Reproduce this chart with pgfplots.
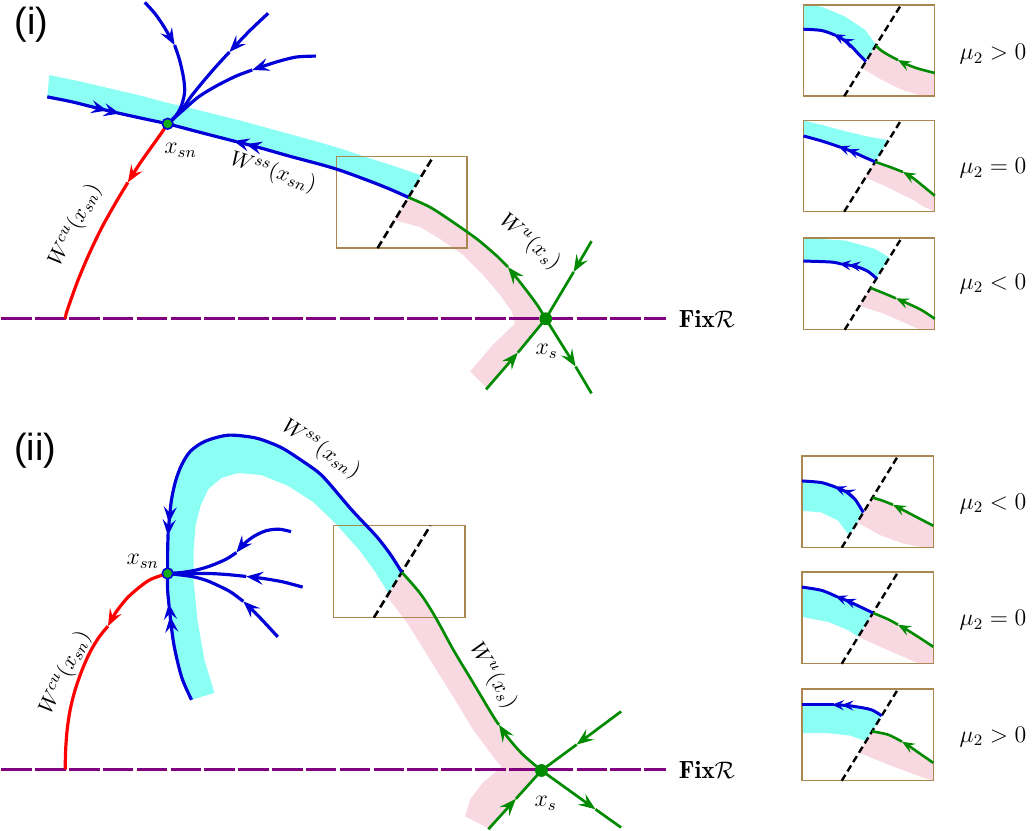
\documentclass[border=0pt]{standalone}
\usepackage{fontspec}
\usepackage{pgfplots}
\pgfplotsset{compat=1.18}
\usetikzlibrary{arrows.meta}
\newfontfamily\labfont{Liberation Sans}
\definecolor{mblue}{RGB}{0,0,215}
\definecolor{mcyan}{RGB}{140,255,245}
\definecolor{mpink}{RGB}{248,217,225}
\definecolor{mgreen}{RGB}{0,138,0}
\definecolor{mdot}{RGB}{20,175,20}
\definecolor{mred}{RGB}{255,0,0}
\definecolor{mpurple}{RGB}{128,0,128}
\definecolor{mbrown}{RGB}{170,135,80}
\tikzset{
 a1/.style={-{Stealth[length=8.5pt,width=6.5pt,inset=3.2pt]}},
 a2/.style={-{Stealth[length=8pt,width=6.5pt,inset=3pt,sep=-1.5pt]Stealth[length=8pt,width=6.5pt,inset=3pt,sep=-1.5pt]}},
 b1/.style={-{Stealth[length=6.5pt,width=5.2pt,inset=2.5pt]}},
 b2/.style={-{Stealth[length=6pt,width=5pt,inset=2.3pt,sep=-1.2pt]Stealth[length=6pt,width=5pt,inset=2.3pt,sep=-1.2pt]}},
 bl/.style={color=mblue, line width=1.6pt, smooth, line join=round},
 gr/.style={color=mgreen, line width=1.35pt, smooth, line join=round},
 rd/.style={color=mred, line width=1.6pt, smooth, line join=round},
 ibl/.style={color=mblue, line width=1.5pt, smooth, line join=round},
 igr/.style={color=mgreen, line width=1.3pt, smooth, line join=round},
 cy/.style={fill=mcyan, draw=none},
 pk/.style={fill=mpink, draw=none},
 bx/.style={color=mbrown, line width=0.7pt},
 dsh/.style={black, line width=1.3pt, dash pattern=on 4pt off 2pt},
 idsh/.style={black, line width=1.2pt, dash pattern=on 3.5pt off 2pt},
 fx/.style={color=mpurple, line width=1.5pt, dash pattern=on 15.3pt off 1.7pt},
}
\begin{document}
\begin{tikzpicture}
\begin{axis}[
  width=516.5pt, height=421.5pt, scale only axis,
  xmin=0, xmax=1033, ymin=0, ymax=843, y dir=reverse,
  hide axis, clip=false,
]
% ================= PANEL (i) =================
\addplot[cy] coordinates {(57,82) (90,89) (120,96) (150,103) (176,110) (210,118) (250,128) (290,139) (330,150) (350,156) (380,166) (405,174) (431,183) (418,205) (400,197) (380,189) (350,178) (330,172) (300,164) (270,155.5) (245,149) (210,140) (176,131) (150,125.5) (123,119.5) (100,114) (80,109) (55,104)};
\addplot[pk] coordinates {(418,205) (440,215) (463,230) (487,247) (507,264) (519,276) (530,290) (540,303) (548,314) (556,327) (537,350) (517,373) (497,397) (480,380) (503,353) (525,332) (522,320) (510,303) (493,283) (473,263) (450,247) (430,235) (404,228)};
\addplot[bx] coordinates {(346,164) (477,164) (477,256) (346,256)} -- cycle;
\addplot[fx] coordinates {(9,327) (677,327)};
\addplot[dsh] coordinates {(387,256) (443,164)};
% W^ss
\addplot[bl,a2] coordinates {(55,104) (80,109) (100,114) (125,120)};
\addplot[bl] coordinates {(125,120) (150,125.5) (176,131)};
\addplot[bl,a2] coordinates {(418,205) (400,197) (380,189) (350,178) (330,172) (300,164) (270,155.5) (245,149)};
\addplot[bl] coordinates {(245,149) (210,140) (176,131)};
% branches
\addplot[bl,a1] coordinates {(153,9) (163,20) (172,33) (183,52)};
\addplot[bl] coordinates {(183,52) (188,67) (192,85) (193,100) (189,115) (182,126) (176,131)};
\addplot[bl,a1] coordinates {(277,20) (258,38) (238,59)};
\addplot[bl] coordinates {(238,59) (226,72) (213,87) (200,103) (190,117) (176,131)};
\addplot[bl,a1] coordinates {(325,63) (305,64) (285,69) (261,77)};
\addplot[bl] coordinates {(261,77) (245,83) (225,93) (207,104) (192,117) (176,131)};
% W^cu
\addplot[rd,a1] coordinates {(176,131) (170,140) (160,154) (148,171) (136,190)};
\addplot[rd] coordinates {(136,190) (124,210) (110,235) (97,262) (86,288) (78,310) (74,322) (73,327)};
% W^u
\addplot[gr,a1] coordinates {(556,327) (548,314) (540,303) (530,290) (518,275)};
\addplot[gr] coordinates {(518,275) (507,264) (487,247) (463,230) (440,215) (418,205)};
% saddle
\addplot[gr,a1] coordinates {(602,249) (584,280)};
\addplot[gr] coordinates {(584,280) (556,327)};
\addplot[gr,a1] coordinates {(556,327) (586,375)};
\addplot[gr] coordinates {(586,375) (602,402)};
\addplot[gr,a1] coordinates {(496,398) (528,361)};
\addplot[gr] coordinates {(528,361) (556,327)};
\addplot[only marks, mark=*, mark size=3pt, mark options={fill=mgreen, draw=mgreen}] coordinates {(556,327)};
\addplot[only marks, mark=*, mark size=2.7pt, mark options={fill=mdot, draw=mblue, line width=0.8pt}] coordinates {(176,131)};
% insets (i)
% box 1
\addplot[cy] coordinates {(815,11.7) (833,13.3) (857,23.3) (877,36.7) (888,51.7) (877.8,68.3) (870,60.5) (863.3,53.3) (855,46.5) (847,42) (833.3,37.3) (815,36)};
\addplot[pk] coordinates {(888,52.7) (893,57.3) (900,61.7) (910,67) (918,71) (930,75.5) (947,80) (947,103.3) (933,102.7) (913.3,96.7) (893.3,86.7) (873.6,75)};
\addplot[bx] coordinates {(815,11.7) (947,11.7) (947,103.3) (815,103.3)} -- cycle;
\addplot[idsh] coordinates {(856,103.3) (913,11.7)};
\addplot[ibl,b2] coordinates {(877.8,68.3) (870,60.5) (863.3,53.3) (855,46.5) (847,42)};
\addplot[ibl] coordinates {(847,42) (833.3,37.3) (815,36)};
\addplot[igr,b1] coordinates {(947,80) (930,75.5) (918,71) (910,67)};
\addplot[igr] coordinates {(910,67) (900,61.7) (893,57.3) (888,52.7)};
% box 2
\addplot[cy] coordinates {(815,127.7) (833,132) (850,136.7) (876.7,143.3) (900.5,147.5) (887.1,169.3) (876,164.5) (864,159) (852,154.5) (833.3,148.3) (815,143.3)};
\addplot[pk] coordinates {(887.1,169.3) (902,174.5) (915,179.5) (925,185.5) (935,193.5) (947,203.3) (947,219.3) (935,214) (926.7,208.3) (900,195) (877.3,185)};
\addplot[bx] coordinates {(815,127.7) (947,127.7) (947,219.3) (815,219.3)} -- cycle;
\addplot[idsh] coordinates {(856,219.3) (913,127.7)};
\addplot[ibl,b2] coordinates {(887.1,169.3) (876,164.5) (864,159) (852,154.5)};
\addplot[ibl] coordinates {(852,154.5) (833.3,148.3) (815,143.3)};
\addplot[igr,b1] coordinates {(947,203.3) (935,193.5) (925,185.5) (915,179.5)};
\addplot[igr] coordinates {(915,179.5) (902,174.5) (887.1,169.3)};
% box 3
\addplot[cy] coordinates {(815,246) (856.7,248.3) (886.7,256.7) (901.5,265.5) (888.4,286.5) (880,279.5) (868,274.5) (853,272) (843,270) (815,269)};
\addplot[pk] coordinates {(882.5,296) (895,301) (908,306.5) (916,310) (925,314) (935,319) (947,327) (947,338) (932,338) (921,333) (896,322) (871.4,314)};
\addplot[bx] coordinates {(815,246) (947,246) (947,338) (815,338)} -- cycle;
\addplot[idsh] coordinates {(856.5,338) (913.5,246)};
\addplot[ibl,b2] coordinates {(888.4,286.5) (880,279.5) (868,274.5) (853,272)};
\addplot[ibl] coordinates {(853,272) (843,270) (815,269)};
\addplot[igr,b1] coordinates {(947,327) (935,319) (925,314) (916,310) (908,306.5)};
\addplot[igr] coordinates {(908,306.5) (895,301) (882.5,296)};
% labels (i)
\node[font=\labfont\fontsize{19}{22}\selectfont] at (39,31) {(i)};
\node[font=\fontsize{12}{14}\selectfont] at (189,158) {$x_{sn}$};
\node[font=\fontsize{12}{14}\selectfont] at (557,360) {$x_{s}$};
\node[font=\fontsize{11}{13}\selectfont, rotate=63] at (83,233) {$W^{cu}(x_{sn})$};
\node[font=\fontsize{11}{13}\selectfont, rotate=-17] at (282,180) {$W^{ss}(x_{sn})$};
\node[font=\fontsize{11}{13}\selectfont, rotate=-40] at (540,250) {$W^{u}(x_{s})$};
\node[font=\fontsize{12.5}{14}\selectfont] at (718,327) {$\mathbf{Fix}\mathcal{R}$};
\node[font=\fontsize{12}{14}\selectfont, anchor=west] at (965,61) {$\mu_2>0$};
\node[font=\fontsize{12}{14}\selectfont, anchor=west] at (965,176) {$\mu_2=0$};
\node[font=\fontsize{12}{14}\selectfont, anchor=west] at (965,292) {$\mu_2<0$};
% ================= PANEL (ii) =================
\addplot[cy] coordinates {(411.3,581.7) (400,564) (387,547) (374,533) (360,518) (337,491) (327,481) (310,469) (293,458) (280,452) (263,446.5) (237,444) (214,450) (199,460) (190,474) (184,490) (180,508) (178,525) (176.5,540) (176,560) (176,583) (176,600) (177.5,618) (182,653) (190,687) (200,710) (223,703) (213,670) (206,630) (202,590) (202,560) (204,535) (209,515) (217,498) (230,487) (247,482) (270,484) (297,495) (322,511) (345,533) (369,560) (385,582) (398,603)};
\addplot[pk] coordinates {(411.3,581.7) (430,603.3) (445,626.7) (463.3,660) (483.3,693.3) (503.3,726.7) (509,735) (518,748) (533,765) (551.7,781) (530,805) (515,822) (500,840) (475,827) (480,810) (493,793) (511.7,777.5) (503,767) (483,740) (463,707) (440,670) (417,633) (396.5,606)};
\addplot[bx] coordinates {(342.7,535) (475,535) (475,627.3) (342.7,627.3)} -- cycle;
\addplot[fx] coordinates {(9,780) (677,780)};
\addplot[dsh] coordinates {(383.3,627.3) (440,535)};
% W^ss
\addplot[bl,a2] coordinates {(411.3,581.7) (400,564) (387,547) (374,533) (360,518) (337,491) (327,481) (310,469) (293,458) (280,452) (263,446.5) (237,444) (214,450) (199,460) (190,474) (184,490) (180,508) (178,525) (176.5,542)};
\addplot[bl] coordinates {(176.5,542) (176,560) (176,583)};
\addplot[bl,a2] coordinates {(200,710) (190,687) (182,653) (177.5,616)};
\addplot[bl] coordinates {(177.5,616) (176,600) (176,583)};
% branches
\addplot[bl,a1] coordinates {(300,541) (288,538.5) (275,540) (263,545.5) (253,553) (245,562)};
\addplot[bl] coordinates {(245,562) (235,568.5) (220,575) (205,579.5) (190,582) (176,583)};
\addplot[bl,a1] coordinates {(311.7,596.7) (292,591.5) (272,588) (255,586)};
\addplot[bl] coordinates {(255,586) (235,584) (216.7,583) (196,583) (176,583)};
\addplot[bl,a1] coordinates {(286.7,646.7) (275,634) (264,622.5) (252,611)};
\addplot[bl] coordinates {(252,611) (240,602) (230,596.7) (215,590) (200,586) (176,583)};
% W^cu
\addplot[rd,a1] coordinates {(176,583) (157,590) (137,606) (124,622) (116,636)};
\addplot[rd] coordinates {(116,636) (107,647) (98,662) (90,680) (83,700) (78,720) (75,740) (73.5,760) (73,780)};
% W^u
\addplot[gr,a1] coordinates {(551.7,781) (533,765) (518,748) (509,735)};
\addplot[gr] coordinates {(509,735) (503.3,726.7) (483.3,693.3) (463.3,660) (445,626.7) (430,603.3) (411.3,581.7)};
% saddle
\addplot[gr,a1] coordinates {(631.7,721.7) (587,755)};
\addplot[gr] coordinates {(587,755) (551.7,781)};
\addplot[gr,a1] coordinates {(551.7,781) (606,820)};
\addplot[gr] coordinates {(606,820) (631.7,838.3)};
\addplot[gr,a1] coordinates {(498.3,840) (526,809.5)};
\addplot[gr] coordinates {(526,809.5) (551.7,781)};
\addplot[only marks, mark=*, mark size=3pt, mark options={fill=mgreen, draw=mgreen}] coordinates {(551.7,781)};
\addplot[only marks, mark=*, mark size=2.7pt, mark options={fill=mdot, draw=mblue, line width=0.8pt}] coordinates {(176,583)};
% insets (ii)
% box 1
\addplot[cy] coordinates {(813.5,490) (833.3,491.7) (848,496.5) (858,501) (866.7,508.3) (875.2,521.7) (860.9,545) (850,530) (833.3,521.7) (813.5,520)};
\addplot[pk] coordinates {(884.4,506.7) (895,510) (905,514) (916.7,520) (930,527) (945.5,535) (945.5,557) (936.7,557) (916.7,553.3) (893.3,545) (869,531.7)};
\addplot[bx] coordinates {(813.5,465) (945.5,465) (945.5,557) (813.5,557)} -- cycle;
\addplot[idsh] coordinates {(853.5,557) (910,465)};
\addplot[ibl,b2] coordinates {(875.2,521.7) (866.7,508.3) (858,501) (848,496.5)};
\addplot[ibl] coordinates {(848,496.5) (833.3,491.7) (813.5,490)};
\addplot[igr,b1] coordinates {(945.5,535) (930,527) (916.7,520) (905,514)};
\addplot[igr] coordinates {(905,514) (895,510) (884.4,506.7)};
% box 2
\addplot[cy] coordinates {(813.5,596.7) (833.3,600) (849,606.5) (858,610) (870,615.5) (885,622.7) (870,646.7) (860,640) (840,631.7) (813.5,626.7)};
\addplot[pk] coordinates {(885,622.7) (900,629) (910,634.5) (918,639) (930,646.5) (945.5,656.7) (945.5,673.7) (932,673.7) (926.7,671.7) (900,660) (870,646.7)};
\addplot[bx] coordinates {(813.5,581.7) (945.5,581.7) (945.5,673.7) (813.5,673.7)} -- cycle;
\addplot[idsh] coordinates {(853.5,673.7) (910,581.7)};
\addplot[ibl,b2] coordinates {(885,622.7) (870,615.5) (858,610) (849,606.5)};
\addplot[ibl] coordinates {(849,606.5) (833.3,600) (813.5,596.7)};
\addplot[igr,b1] coordinates {(945.5,656.7) (930,646.5) (918,639) (910,634.5)};
\addplot[igr] coordinates {(910,634.5) (900,629) (885,622.7)};
% box 3
\addplot[cy] coordinates {(813.5,715) (846,715) (856,715.5) (866.7,716.7) (883.3,720) (893.6,726) (878,751.5) (862,746) (840,743.5) (813.5,743.5)};
\addplot[pk] coordinates {(884,741.7) (900,745) (914,752) (922,757) (932,764) (945.5,773.3) (945.5,791.3) (935,788) (926.7,785) (900,775) (871,763.3)};
\addplot[bx] coordinates {(813.5,699.3) (945.5,699.3) (945.5,791.3) (813.5,791.3)} -- cycle;
\addplot[idsh] coordinates {(853.5,791.3) (910,699.3)};
\addplot[ibl,b2] coordinates {(893.6,726) (883.3,720) (866.7,716.7) (856,715.5) (846,715)};
\addplot[ibl] coordinates {(846,715) (813.5,715)};
\addplot[igr,b1] coordinates {(945.5,773.3) (932,764) (922,757) (914,752)};
\addplot[igr] coordinates {(914,752) (900,745) (884,741.7)};
% labels (ii)
\node[font=\labfont\fontsize{19}{22}\selectfont] at (43,460) {(ii)};
\node[font=\fontsize{12}{14}\selectfont] at (151,571) {$x_{sn}$};
\node[font=\fontsize{12}{14}\selectfont] at (556,814) {$x_{s}$};
\node[font=\fontsize{11}{13}\selectfont, rotate=64] at (73,683) {$W^{cu}(x_{sn})$};
\node[font=\fontsize{11}{13}\selectfont, rotate=-33] at (330,458) {$W^{ss}(x_{sn})$};
\node[font=\fontsize{11}{13}\selectfont, rotate=-59] at (503,686) {$W^{u}(x_{s})$};
\node[font=\fontsize{12.5}{14}\selectfont] at (718,780) {$\mathbf{Fix}\mathcal{R}$};
\node[font=\fontsize{12}{14}\selectfont, anchor=west] at (965,513) {$\mu_2<0$};
\node[font=\fontsize{12}{14}\selectfont, anchor=west] at (965,630) {$\mu_2=0$};
\node[font=\fontsize{12}{14}\selectfont, anchor=west] at (965,747) {$\mu_2>0$};
\end{axis}
\end{tikzpicture}
\end{document}
